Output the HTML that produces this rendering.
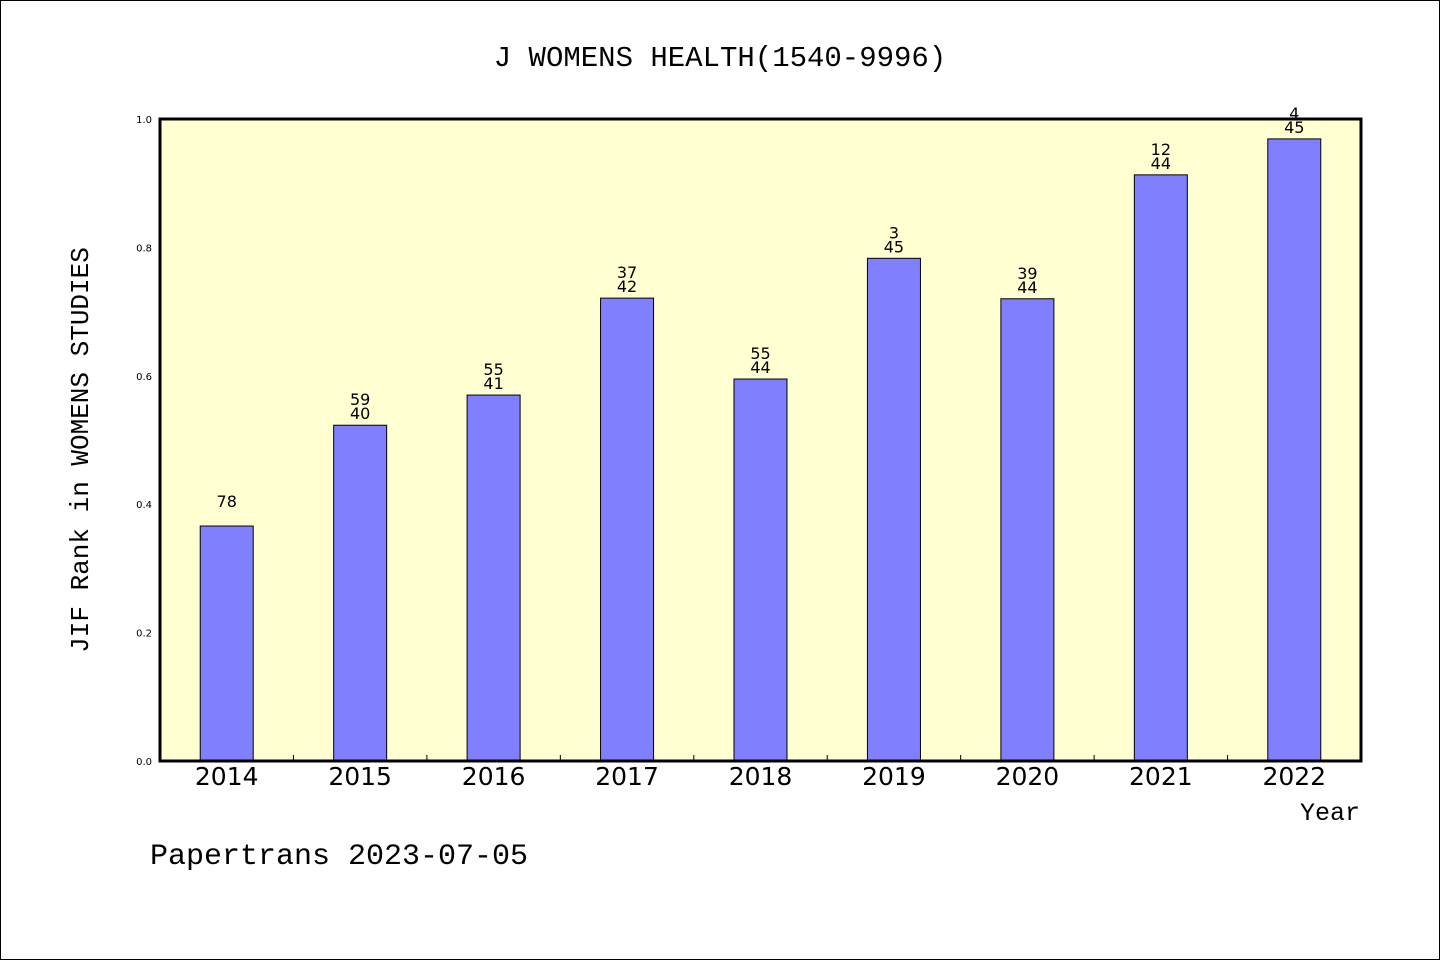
<!DOCTYPE html>
<html><head><meta charset="utf-8"><style>
body{margin:0;background:#fff}
svg{display:block}
.mono{font-family:"Liberation Mono","DejaVu Sans Mono",monospace}
.sans{font-family:"DejaVu Sans","Liberation Sans",sans-serif}
</style></head><body>
<svg id="chart" width="1440" height="960" viewBox="0 0 1440 960">
<rect x="0.5" y="0.5" width="1439" height="959" fill="#fff" stroke="#000"/>
<text x="720" y="66" text-anchor="middle" font-size="29" class="mono">J WOMENS HEALTH(1540-9996)</text>
<rect x="160" y="119" width="1201" height="642" fill="#ffffd2"/>
<g id="bars"></g>
<g id="ticks"></g>
<rect x="160" y="119" width="1201" height="642" fill="none" stroke="#000" stroke-width="3"/>
<text transform="translate(88,450) rotate(-90)" text-anchor="middle" font-size="26" class="mono">JIF Rank in WOMENS STUDIES</text>
<text x="1360" y="820" text-anchor="end" font-size="25" class="mono">Year</text>
<text x="150" y="864" font-size="30" class="mono">Papertrans 2023-07-05</text>
</svg>
<script>
const categories=["2014","2015","2016","2017","2018","2019","2020","2021","2022"];
const values=[0.366,0.523,0.570,0.721,0.595,0.783,0.720,0.913,0.969];
const rankLabels=["78","59","55","37","55","3","39","12","4"];
const totalLabels=["","40","41","42","44","45","44","44","45"];
const yTicks=[0,0.2,0.4,0.6,0.8,1.0];
const yTickLabels=["0.0","0.2","0.4","0.6","0.8","1.0"];
const X0=160,X1=1361,Y0=761,Y1=119;
const band=(X1-X0)/categories.length;
const xc=i=>X0+band*(i+0.5);
const ys=v=>Y0-(Y0-Y1)*v;
const NS="http://www.w3.org/2000/svg";
const bars=document.getElementById('bars'),ticks=document.getElementById('ticks');
function mk(tag,attrs,parent,txt){const e=document.createElementNS(NS,tag);for(const k in attrs)e.setAttribute(k,attrs[k]);if(txt!==undefined)e.textContent=txt;parent.appendChild(e);return e;}
const bw=53;
categories.forEach((c,i)=>{
 const r=mk('rect',{x:xc(i)-bw/2,y:ys(values[i]),width:bw,height:Y0-ys(values[i]),fill:'#8080ff',stroke:'#000','stroke-width':1},bars);
 
 
 const top=ys(values[i]);
 if(totalLabels[i]){
  const t1=mk('text',{x:xc(i),y:top-20,'text-anchor':'middle','font-size':16,class:'sans'},bars,rankLabels[i]);
  
  
  const t2=mk('text',{x:xc(i),y:top-6,'text-anchor':'middle','font-size':16,class:'sans'},bars,totalLabels[i]);
  
  
 } else {
  const t1=mk('text',{x:xc(i),y:top-19,'text-anchor':'middle','font-size':16,class:'sans'},bars,rankLabels[i]);
  
  
 }
 const xl=mk('text',{x:xc(i),y:785,'text-anchor':'middle','font-size':25,class:'sans'},ticks,c);
 
 
 if(i>0){const tk=mk('line',{x1:X0+band*i,x2:X0+band*i,y1:Y0,y2:Y0-6,stroke:'#000'},ticks);
 
 }
});
yTicks.forEach((v,i)=>{
 const t=mk('text',{x:152,y:ys(v)+4,'text-anchor':'end','font-size':10,class:'sans'},ticks,yTickLabels[i]);
 
 
});
</script>
</body></html>
